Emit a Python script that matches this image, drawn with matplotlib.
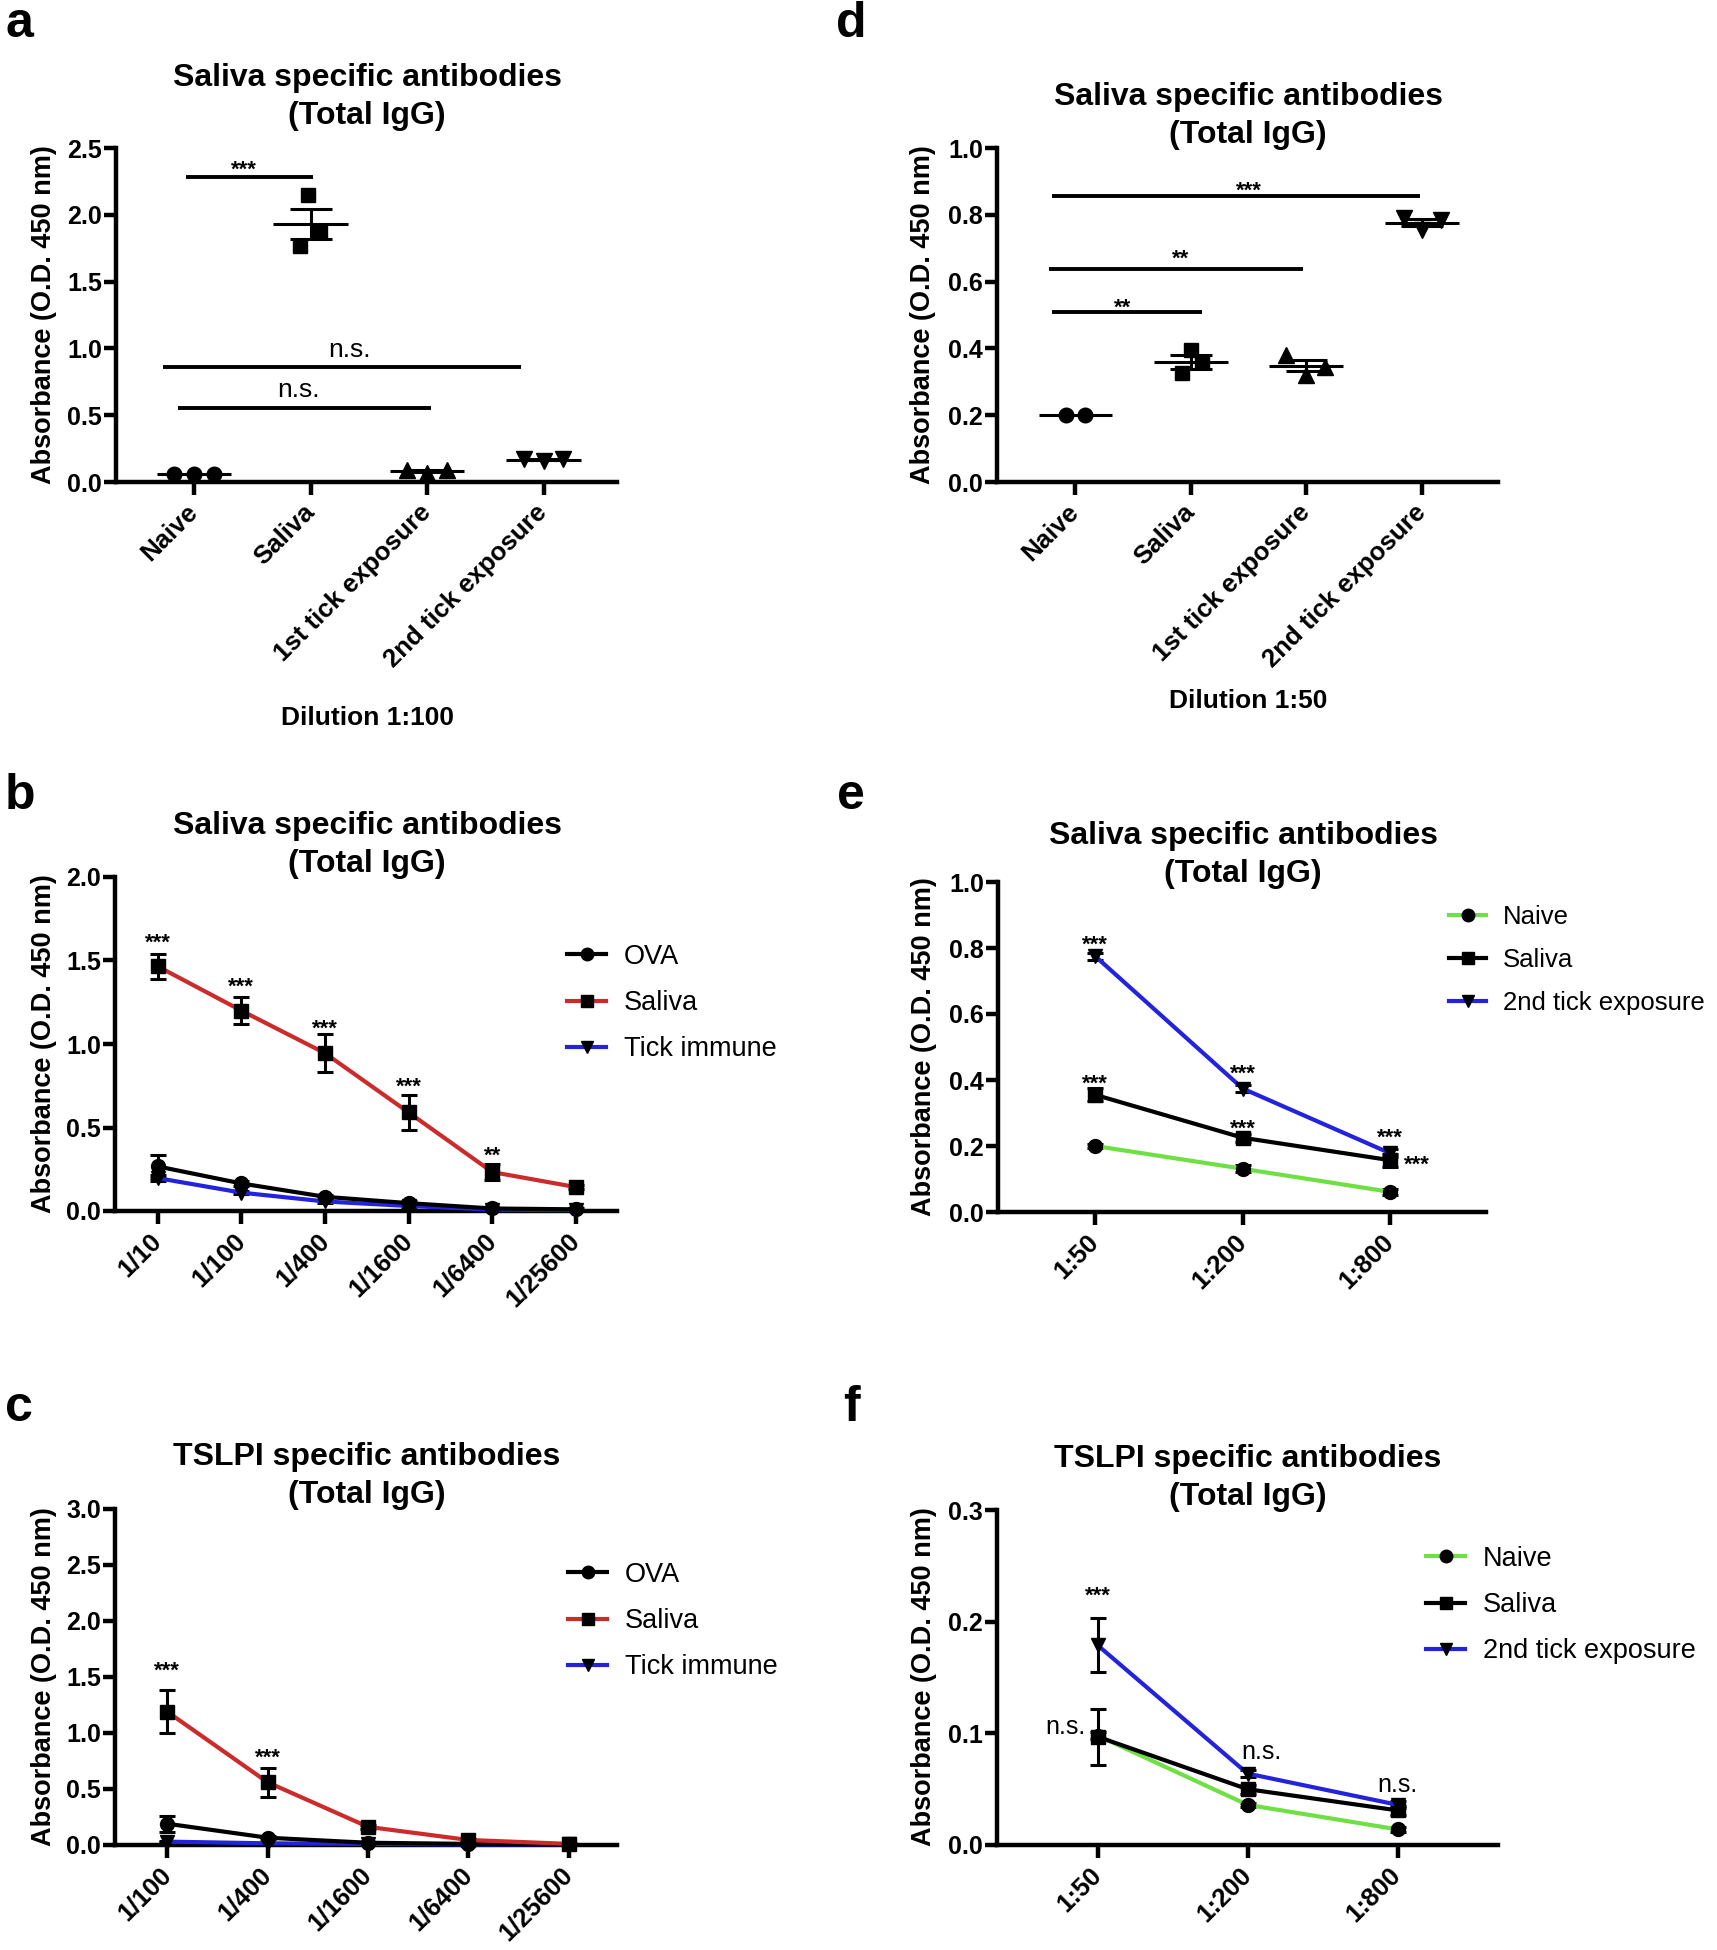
import numpy as np
import matplotlib
matplotlib.use('Agg')
import matplotlib.pyplot as plt
from matplotlib.lines import Line2D

plt.rcParams['font.family'] = ['Liberation Sans', 'DejaVu Sans']

# ---- data ----
groups = ['Naive', 'Saliva', '1st tick exposure', '2nd tick exposure']

# a: dilution 1:100, individual mice
a_naive = [0.06, 0.06, 0.06]
a_saliva = [2.15, 1.77, 1.88]
a_tick1 = [0.09, 0.07, 0.09]
a_tick2 = [0.17, 0.16, 0.17]

# d: dilution 1:50, individual mice
d_naive = [0.20, 0.20]
d_saliva = [0.395, 0.325, 0.36]
d_tick1 = [0.38, 0.32, 0.345]
d_tick2 = [0.79, 0.785, 0.755]

# b: saliva specific, titration
b_dil = ['1/10', '1/100', '1/400', '1/1600', '1/6400', '1/25600']
b_ova = [0.267, 0.165, 0.085, 0.047, 0.015, 0.010]
b_ova_err = [0.07, 0.015, 0.01, 0.01, 0.005, 0.005]
b_saliva = [1.465, 1.20, 0.945, 0.59, 0.233, 0.143]
b_saliva_err = [0.075, 0.08, 0.115, 0.105, 0.05, 0.012]
b_tick = [0.197, 0.11, 0.057, 0.03, 0.008, 0.005]
b_tick_err = [0.02, 0.01, 0.008, 0.005, 0.003, 0.003]
b_stars = ['***', '***', '***', '***', '**']
b_star_y = [1.65, 1.385, 1.13, 0.785, 0.37]

# c: TSLPI specific, titration
c_dil = ['1/100', '1/400', '1/1600', '1/6400', '1/25600']
c_ova = [0.19, 0.065, 0.02, 0.01, 0.005]
c_ova_err = [0.07, 0.015, 0.005, 0.005, 0.003]
c_saliva = [1.19, 0.56, 0.162, 0.045, 0.01]
c_saliva_err = [0.19, 0.13, 0.02, 0.01, 0.005]
c_tick = [0.03, 0.015, 0.01, 0.005, 0.005]
c_tick_err = [0.005, 0.003, 0.003, 0.002, 0.002]
c_stars = ['***', '***']
c_star_y = [1.62, 0.84]

# e: saliva specific, 3 dilutions
ef_dil = ['1:50', '1:200', '1:800']
e_naive = [0.20, 0.131, 0.061]
e_naive_err = [0.005, 0.01, 0.01]
e_saliva = [0.355, 0.225, 0.157]
e_saliva_err = [0.02, 0.012, 0.02]
e_tick2 = [0.775, 0.374, 0.178]
e_tick2_err = [0.01, 0.01, 0.012]

# f: TSLPI specific, 3 dilutions
f_naive = [0.098, 0.036, 0.014]
f_naive_err = [0.003, 0.002, 0.002]
f_saliva = [0.097, 0.05, 0.031]
f_saliva_err = [0.025, 0.004, 0.004]
f_tick2 = [0.179, 0.064, 0.036]
f_tick2_err = [0.024, 0.003, 0.003]

RED = '#cc2b2b'
BLUE = '#2323dc'
GREEN = '#6fe043'

W, H = 1717, 1950
fig = plt.figure(figsize=(W / 100, H / 100), dpi=100)
fig.patch.set_facecolor('white')


def add_axes(l, r, t, b):
    return fig.add_axes([l / W, 1 - b / H, (r - l) / W, (b - t) / H])


def style(ax, xlim, xlabels, ylim, ystep):
    for s in ['top', 'right']:
        ax.spines[s].set_visible(False)
    for s in ['left', 'bottom']:
        ax.spines[s].set_linewidth(3.2)
    ax.set_xlim(xlim)
    ax.set_ylim(ylim)
    yt = np.arange(0, ylim[1] + ystep / 2, ystep)
    ax.set_yticks(yt)
    ax.set_yticklabels(['%.1f' % v for v in yt], fontsize=18, fontweight='bold')
    ax.set_xticks(range(len(xlabels)))
    ax.set_xticklabels(xlabels, rotation=45, ha='right', va='center',
                       rotation_mode='anchor', fontsize=18.5, fontweight='bold')
    ax.tick_params(axis='both', width=3.2, length=9, direction='out')
    ax.tick_params(axis='y', pad=1)
    ax.tick_params(axis='x', pad=10)


def ylabel(x, yc):
    fig.text(x / W, 1 - yc / H, 'Absorbance (O.D. 450 nm)', rotation=90,
             ha='center', va='center', fontsize=19.5, fontweight='bold')


def title(x, yc, s):
    fig.text(x / W, 1 - yc / H, s, ha='center', va='center', fontsize=23,
             fontweight='bold', linespacing=1.32, multialignment='center')


def panel_label(x, yb, s):
    fig.text(x / W, 1 - yb / H, s, ha='center', va='baseline', fontsize=36, fontweight='bold')


def note(ax, x, y, s, fs=16, bold=True, ha='center', lift=0.58):
    ax.annotate(s, (x, y), xytext=(0, -lift * fs), textcoords='offset points',
                ha=ha, va='baseline', fontsize=fs,
                fontweight='bold' if bold else 'normal', annotation_clip=False)


def dot_group(ax, x, vals, offsets, marker, ms):
    vals = np.array(vals)
    m = vals.mean()
    sem = vals.std(ddof=1) / np.sqrt(len(vals))
    ax.plot(x + np.array(offsets), vals, ls='none', marker=marker, color='k', ms=ms,
            clip_on=False, zorder=3)
    ax.hlines(m, x - 0.32, x + 0.32, color='k', lw=2.2, zorder=4)
    if sem > 0:
        ax.vlines(x, m - sem, m + sem, color='k', lw=2.2, zorder=4)
        ax.hlines([m - sem, m + sem], x - 0.18, x + 0.18, color='k', lw=2.2, zorder=4)


def series(ax, y, err, color, marker, label):
    x = np.arange(len(y))
    ax.errorbar(x, y, yerr=err, color=color, lw=3, marker=marker, mfc='k', mec='k',
                ms=10, ecolor='k', elinewidth=2.2, capsize=5.5, capthick=2.2,
                clip_on=False, zorder=3, label=label)


def legend(ax, handles, x_left, yc, fs=19.5):
    ax.legend(handles=handles, loc='center left', bbox_to_anchor=(x_left / W, 1 - yc / H),
              bbox_transform=fig.transFigure, frameon=False, fontsize=fs,
              borderpad=0, borderaxespad=0, handlelength=1.45, handletextpad=0.65,
              labelspacing=0.75)


def handle(color, marker, label):
    return Line2D([], [], color=color, lw=3, marker=marker, mfc='k', mec='k', ms=9, label=label)


# ---- panel a ----
ax = add_axes(116, 617, 148, 482)
style(ax, (-0.67, 3.63), groups, (0, 2.5), 0.5)
dot_group(ax, 0, a_naive, [-0.17, 0, 0.17], 'o', 10.5)
dot_group(ax, 1, a_saliva, [-0.02, -0.09, 0.08], 's', 10.5)
dot_group(ax, 2, a_tick1, [-0.17, 0, 0.17], '^', 11.5)
dot_group(ax, 3, a_tick2, [-0.17, 0, 0.17], 'v', 11.5)
ax.hlines(2.285, -0.07, 1.02, color='k', lw=2.8)
note(ax, 0.43, 2.39, '***')
ax.hlines(0.861, -0.27, 2.81, color='k', lw=2.8)
note(ax, 1.33, 0.99, 'n.s.', fs=19, bold=False, lift=0.26)
ax.hlines(0.557, -0.14, 2.03, color='k', lw=2.8)
note(ax, 0.9, 0.69, 'n.s.', fs=19, bold=False, lift=0.26)
ylabel(44, 315)
title(367, 97, 'Saliva specific antibodies\n(Total IgG)')
fig.text(367 / W, 1 - 718 / H, 'Dilution 1:100', ha='center', va='center',
         fontsize=19, fontweight='bold')
panel_label(19, 37, 'a')

# ---- panel d ----
ax = add_axes(997, 1498, 148, 482)
style(ax, (-0.68, 3.66), groups, (0, 1.0), 0.2)
dot_group(ax, 0, d_naive, [-0.085, 0.085], 'o', 10.5)
dot_group(ax, 1, d_saliva, [0.0, -0.075, 0.1], 's', 10.5)
dot_group(ax, 2, d_tick1, [-0.175, 0.0, 0.165], '^', 11.5)
dot_group(ax, 3, d_tick2, [-0.15, 0.17, 0.0], 'v', 11.5)
ax.hlines(0.856, -0.2, 2.98, color='k', lw=2.8)
note(ax, 1.5, 0.894, '***')
ax.hlines(0.637, -0.23, 1.97, color='k', lw=2.8)
note(ax, 0.91, 0.69, '**')
ax.hlines(0.51, -0.2, 1.1, color='k', lw=2.8)
note(ax, 0.41, 0.541, '**')
ylabel(923, 315)
title(1248, 116, 'Saliva specific antibodies\n(Total IgG)')
fig.text(1248 / W, 1 - 701 / H, 'Dilution 1:50', ha='center', va='center',
         fontsize=19, fontweight='bold')
panel_label(851, 37, 'd')

# ---- panel b ----
ax = add_axes(115, 617, 877, 1211)
style(ax, (-0.51, 5.49), b_dil, (0, 2.0), 0.5)
series(ax, b_tick, b_tick_err, BLUE, 'v', 'Tick immune')
series(ax, b_ova, b_ova_err, 'k', 'o', 'OVA')
series(ax, b_saliva, b_saliva_err, RED, 's', 'Saliva')
for i, (s, y) in enumerate(zip(b_stars, b_star_y)):
    note(ax, i, y, s)
legend(ax, [handle('k', 'o', 'OVA'), handle(RED, 's', 'Saliva'), handle(BLUE, 'v', 'Tick immune')],
       567, 1003)
ylabel(44, 1044)
title(367, 845, 'Saliva specific antibodies\n(Total IgG)')
panel_label(20, 809, 'b')

# ---- panel e ----
ax = add_axes(998, 1486, 882, 1212)
style(ax, (-0.66, 2.65), ef_dil, (0, 1.0), 0.2)
series(ax, e_naive, e_naive_err, GREEN, 'o', 'Naive')
series(ax, e_saliva, e_saliva_err, 'k', 's', 'Saliva')
series(ax, e_tick2, e_tick2_err, BLUE, 'v', '2nd tick exposure')
note(ax, 0, 0.83, '***')
note(ax, 0, 0.41, '***')
note(ax, 1, 0.44, '***')
note(ax, 1, 0.273, '***')
note(ax, 2, 0.247, '***')
note(ax, 2.18, 0.165, '***')
legend(ax, [handle(GREEN, 'o', 'Naive'), handle('k', 's', 'Saliva'),
            handle(BLUE, 'v', '2nd tick exposure')], 1449, 960, fs=18.5)
ylabel(924, 1047)
title(1243, 855, 'Saliva specific antibodies\n(Total IgG)')
panel_label(851, 809, 'e')

# ---- panel c ----
ax = add_axes(115, 617, 1509, 1845)
style(ax, (-0.52, 4.48), c_dil, (0, 3.0), 0.5)
series(ax, c_tick, c_tick_err, BLUE, 'v', 'Tick immune')
series(ax, c_ova, c_ova_err, 'k', 'o', 'OVA')
series(ax, c_saliva, c_saliva_err, RED, 's', 'Saliva')
for i, (s, y) in enumerate(zip(c_stars, c_star_y)):
    note(ax, i, y, s)
legend(ax, [handle('k', 'o', 'OVA'), handle(RED, 's', 'Saliva'), handle(BLUE, 'v', 'Tick immune')],
       568, 1621)
ylabel(44, 1677)
title(367, 1476, 'TSLPI specific antibodies\n(Total IgG)')
panel_label(19, 1421, 'c')

# ---- panel f ----
ax = add_axes(997, 1498, 1510, 1845)
style(ax, (-0.67, 2.67), ef_dil, (0, 0.3), 0.1)
series(ax, f_naive, f_naive_err, GREEN, 'o', 'Naive')
series(ax, f_saliva, f_saliva_err, 'k', 's', 'Saliva')
series(ax, f_tick2, f_tick2_err, BLUE, 'v', '2nd tick exposure')
note(ax, 0, 0.229, '***')
note(ax, -0.08, 0.105, 'n.s.', fs=18, bold=False, ha='right', lift=0.26)
note(ax, 1.09, 0.083, 'n.s.', fs=18, bold=False, lift=0.26)
note(ax, 2, 0.053, 'n.s.', fs=18, bold=False, lift=0.26)
legend(ax, [handle(GREEN, 'o', 'Naive'), handle('k', 's', 'Saliva'),
            handle(BLUE, 'v', '2nd tick exposure')], 1426, 1605)
ylabel(924, 1677)
title(1248, 1478, 'TSLPI specific antibodies\n(Total IgG)')
panel_label(851, 1421, 'f')

fig.savefig('out.png', dpi=100, facecolor='white')
